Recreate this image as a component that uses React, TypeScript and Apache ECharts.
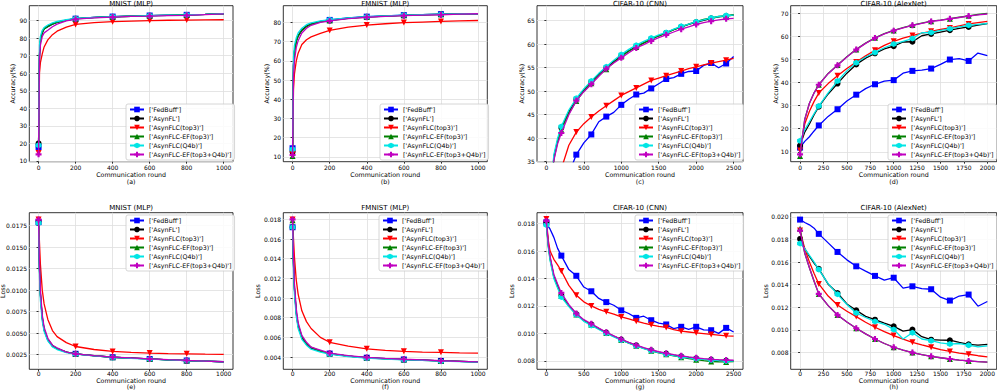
import React, { useEffect, useRef } from "react";
import * as echarts from "echarts";

const FONT = "DejaVu Sans";

const SERIES_NAMES = [
  "['FedBuff']",
  "['AsynFL']",
  "['AsynFLC(top3)']",
  "['AsynFLC-EF(top3)']",
  "['AsynFLC(Q4b)']",
  "['AsynFLC-EF(top3+Q4b)']",
];
const PANEL_TITLES = ["MNIST (MLP)", "FMNIST (MLP)", "CIFAR-10 (CNN)", "CIFAR-10 (AlexNet)"];
const PANEL_TAGS = ["(a)", "(b)", "(c)", "(d)", "(e)", "(f)", "(g)", "(h)"];
const X_NAME = "Communication round";
const Y_NAME_ACC = "Accuracy(%)";
const Y_NAME_LOSS = "Loss";

// tick labels
const X_TICKS_1000 = [0, 200, 400, 600, 800, 1000];
const X_TICKS_2500 = [0, 500, 1000, 1500, 2000, 2500];
const X_TICKS_2000 = [0, 250, 500, 750, 1000, 1250, 1500, 1750, 2000];
const Y_TICKS_A = [10, 20, 30, 40, 50, 60, 70, 80, 90];
const Y_TICKS_B = [10, 20, 30, 40, 50, 60, 70, 80];
const Y_TICKS_C = [35, 40, 45, 50, 55, 60, 65];
const Y_TICKS_D = [10, 20, 30, 40, 50, 60, 70];
const Y_TICKS_E = [0.0025, 0.005, 0.0075, 0.01, 0.0125, 0.015, 0.0175];
const Y_TICKS_F = [0.004, 0.006, 0.008, 0.01, 0.012, 0.014, 0.016, 0.018];
const Y_TICKS_G = [0.008, 0.01, 0.012, 0.014, 0.016, 0.018];
const Y_TICKS_H = [0.008, 0.01, 0.012, 0.014, 0.016, 0.018, 0.02];

// communication rounds
const X_MNIST = [0, 5, 10, 20, 30, 50, 75, 100, 150, 200, 300, 400, 500, 600, 700, 800, 900, 1000];
const X_CNN = [0, 25, 50, 100, 150, 200, 300, 400, 500, 600, 700, 800, 900, 1000, 1100, 1200, 1300, 1400, 1500, 1600, 1700, 1800, 1900, 2000, 2100, 2200, 2300, 2400, 2500];
const X_ALEX = [0, 50, 100, 150, 200, 300, 400, 500, 600, 700, 800, 900, 1000, 1100, 1200, 1300, 1400, 1500, 1600, 1700, 1800, 1900, 2000];

// (a) MNIST accuracy: FedBuff, AsynFL, top3, EF(top3), Q4b, EF(top3+Q4b)
const mnistAccFedBuff = [18, 70, 78, 83, 85.3, 86.5, 88, 89, 90.2, 91.1, 91.8, 92.3, 92.6, 92.9, 93.1, 93.3, 93.6, 94];
const mnistAccAsynFL = [20, 71, 79, 83.5, 85.6, 86.8, 88.2, 89.2, 90.3, 91.1, 91.8, 92.2, 92.5, 92.8, 93.0, 93.2, 93.5, 93.9];
const mnistAccTop3 = [14.5, 60, 66, 71, 75, 79, 82, 84, 86.3, 87.8, 88.8, 89.4, 89.7, 90, 90.2, 90.3, 90.4, 90.5];
const mnistAccEfTop3 = [19.5, 70, 78, 83, 85.3, 86.5, 88, 89, 90.2, 91, 91.7, 92.1, 92.5, 92.8, 93, 93.2, 93.5, 93.9];
const mnistAccQ4b = [19, 76, 81, 84.5, 86, 87.5, 88.7, 89.5, 90.5, 91.2, 91.9, 92.3, 92.6, 92.9, 93.1, 93.3, 93.6, 94];
const mnistAccEfBoth = [13.8, 68, 76, 81, 83, 84.5, 86.5, 88, 89.8, 90.8, 91.6, 92, 92.4, 92.6, 92.9, 93, 93.4, 93.8];

// (b) FMNIST accuracy
const fmnistAccFedBuff = [14.5, 58, 65, 70.5, 73, 76, 78, 79.2, 80.5, 81.3, 82.3, 83, 83.4, 83.8, 84.1, 84.3, 84.4, 84.5];
const fmnistAccAsynFL = [12.5, 58, 65, 70.5, 73, 76, 78, 79.2, 80.4, 81.1, 82.2, 82.9, 83.3, 83.7, 84, 84.2, 84.4, 84.5];
const fmnistAccTop3 = [11.5, 45, 53, 60, 64, 68.5, 71, 72.5, 74.3, 75.8, 77.5, 78.6, 79.3, 79.9, 80.2, 80.5, 80.8, 81];
const fmnistAccEfTop3 = [10.5, 57, 64.5, 70, 72.8, 75.8, 77.8, 79, 80.3, 81, 82.1, 82.8, 83.3, 83.7, 84, 84.2, 84.4, 84.5];
const fmnistAccQ4b = [14, 62, 68, 72, 74.5, 77, 78.8, 79.8, 80.8, 81.4, 82.3, 83, 83.4, 83.8, 84.1, 84.3, 84.4, 84.5];
const fmnistAccEfBoth = [11, 52, 60, 67, 70.5, 74.5, 77, 78.5, 80, 80.8, 82, 82.7, 83.1, 83.5, 83.8, 84, 84.3, 84.5];

// (c) CIFAR-10 CNN accuracy
const cnnAccFedBuff = [10, 12, 14, 19, 23, 27, 32.5, 36.5, 39, 40.8, 43.5, 44.6, 45.5, 47.1, 48.3, 49.3, 49.6, 50.6, 51.6, 52.6, 52.9, 53.7, 54.2, 54.3, 55.5, 56.0, 55.0, 55.9, 57.4];
const cnnAccAsynFL = [10, 18, 26, 36, 39.5, 42.2, 45.6, 48.3, 50.3, 52, 53.6, 55, 56.3, 57.5, 58.6, 59.5, 60.3, 61.1, 61.8, 62.4, 63.1, 63.7, 64.2, 64.7, 65.1, 65.5, 65.8, 66.0, 66.2];
const cnnAccTop3 = [10, 14, 18, 25, 30, 33.5, 38.5, 41.3, 43.1, 44.5, 45.8, 46.9, 48, 49.1, 49.9, 50.7, 51.5, 52.3, 52.8, 53.3, 53.8, 54.3, 54.8, 55.2, 55.6, 56.0, 56.3, 56.6, 57.0];
const cnnAccEfTop3 = [10, 17.5, 25.5, 35.5, 39.2, 41.8, 45.3, 47.9, 50.0, 51.7, 53.3, 54.7, 56.1, 57.4, 58.5, 59.4, 60.3, 61.1, 61.8, 62.4, 63.1, 63.7, 64.3, 64.8, 65.3, 65.6, 65.9, 66.1, 66.3];
const cnnAccQ4b = [10, 18.5, 27, 36.5, 40, 42.5, 46, 48.5, 50.5, 52.2, 53.8, 55.2, 56.6, 57.8, 58.9, 59.8, 60.6, 61.3, 62, 62.5, 63.2, 63.8, 64.3, 64.8, 65.2, 65.6, 65.9, 66.1, 66.2];
const cnnAccEfBoth = [10, 17.5, 25, 35.3, 38.8, 41.1, 45, 48, 49.9, 51.5, 53.2, 54.8, 56, 57.1, 58.2, 59.2, 59.9, 60.7, 61.4, 62, 62.6, 63.2, 63.7, 64.2, 64.6, 64.9, 65.2, 65.4, 65.5];

// (d) CIFAR-10 AlexNet accuracy
const alexAccFedBuff = [11.8, 14.5, 16.5, 19, 21.4, 25.3, 28.4, 32, 34.7, 37.3, 39.2, 40.6, 41, 44, 45, 45.3, 46, 47.8, 49.9, 50.3, 49.3, 52.7, 51.6];
const alexAccAsynFL = [12.7, 18.5, 22, 26, 29.5, 35, 39.5, 44, 47.8, 50.5, 52.6, 54.5, 55.7, 57.5, 57.6, 60.2, 61, 61.8, 62.6, 63.4, 64, 64.8, 65.5];
const alexAccTop3 = [10.5, 22, 27.5, 31.8, 35.4, 39.5, 42.9, 46, 48.8, 51.5, 53.9, 56, 57.8, 59.2, 60.3, 61.3, 62.1, 62.9, 63.6, 64.5, 65.3, 65.9, 66.4];
const alexAccEfTop3 = [8.2, 24, 31, 35.5, 39, 43.9, 47.5, 51.1, 54.3, 57, 59.3, 61.1, 62.5, 63.7, 64.8, 65.7, 66.5, 67, 67.6, 68.2, 68.8, 69.4, 69.9];
const alexAccQ4b = [14.8, 19.5, 23, 26.5, 29.8, 35.5, 40.6, 45, 48.5, 51, 53, 55, 56.6, 57.8, 59, 61.5, 61.6, 62.5, 63.2, 64, 64.7, 65.1, 65.5];
const alexAccEfBoth = [8.9, 24, 31, 35.5, 39, 43.8, 47.4, 51, 54.2, 56.9, 59.2, 61, 62.4, 63.6, 64.7, 65.6, 66.4, 66.9, 67.5, 68.1, 68.7, 69.2, 69.6];

// (e) MNIST loss
const mnistLossFedBuff = [0.0179, 0.0125, 0.0095, 0.0068, 0.0054, 0.0042, 0.0035, 0.0032, 0.0028, 0.0026, 0.00238, 0.0022, 0.0021, 0.002, 0.0019, 0.00182, 0.00175, 0.00168];
const mnistLossAsynFL = [0.018, 0.0124, 0.0094, 0.0067, 0.0054, 0.0042, 0.0035, 0.0032, 0.0028, 0.0026, 0.00237, 0.0022, 0.0021, 0.002, 0.0019, 0.00181, 0.00174, 0.00167];
const mnistLossTop3 = [0.0182, 0.0155, 0.013, 0.01, 0.0084, 0.0066, 0.0053, 0.0046, 0.0039, 0.00345, 0.0031, 0.00288, 0.00276, 0.00268, 0.00263, 0.0026, 0.00256, 0.00253];
const mnistLossEfTop3 = [0.018, 0.0126, 0.0096, 0.0069, 0.0055, 0.0043, 0.0036, 0.0032, 0.0028, 0.0026, 0.00238, 0.0022, 0.0021, 0.002, 0.0019, 0.00182, 0.00175, 0.00168];
const mnistLossQ4b = [0.0178, 0.0115, 0.0088, 0.0064, 0.0052, 0.0041, 0.0034, 0.0031, 0.00275, 0.00257, 0.00235, 0.00218, 0.00208, 0.00199, 0.0019, 0.00181, 0.00174, 0.00167];
const mnistLossEfBoth = [0.0182, 0.013, 0.01, 0.0071, 0.0057, 0.0044, 0.0036, 0.0033, 0.0028, 0.0026, 0.0024, 0.00222, 0.00212, 0.00202, 0.00192, 0.00183, 0.00176, 0.00168];

// (f) FMNIST loss
const fmnistLossFedBuff = [0.0172, 0.0135, 0.011, 0.0085, 0.0072, 0.006, 0.0053, 0.0049, 0.0046, 0.00435, 0.0041, 0.00393, 0.00383, 0.00375, 0.00368, 0.0036, 0.00355, 0.0035];
const fmnistLossAsynFL = [0.0172, 0.0134, 0.0109, 0.0084, 0.0071, 0.006, 0.0053, 0.0049, 0.0046, 0.00433, 0.0041, 0.00392, 0.00382, 0.00374, 0.00367, 0.0036, 0.00355, 0.0035];
const fmnistLossTop3 = [0.018, 0.016, 0.0142, 0.0118, 0.0104, 0.0087, 0.0076, 0.0069, 0.006, 0.0055, 0.0051, 0.00483, 0.00468, 0.00458, 0.0045, 0.00448, 0.00443, 0.0044];
const fmnistLossEfTop3 = [0.0179, 0.0137, 0.0111, 0.0086, 0.0073, 0.0061, 0.0054, 0.005, 0.0046, 0.00435, 0.0041, 0.00393, 0.00383, 0.00375, 0.00368, 0.0036, 0.00355, 0.0035];
const fmnistLossQ4b = [0.0172, 0.0128, 0.0104, 0.0081, 0.0069, 0.0058, 0.0052, 0.0048, 0.0045, 0.0043, 0.00405, 0.00388, 0.0038, 0.00372, 0.00365, 0.00358, 0.00353, 0.00349];
const fmnistLossEfBoth = [0.018, 0.0142, 0.0115, 0.0089, 0.0075, 0.0062, 0.0055, 0.005, 0.0047, 0.0044, 0.00415, 0.00396, 0.00386, 0.00377, 0.0037, 0.00362, 0.00356, 0.0035];

// (g) CIFAR-10 CNN loss
const cnnLossFedBuff = [0.0181, 0.0178, 0.0176, 0.017, 0.0162, 0.01567, 0.01465, 0.0142, 0.01338, 0.01307, 0.01255, 0.01228, 0.01205, 0.01168, 0.01145, 0.01113, 0.01125, 0.01096, 0.01075, 0.01065, 0.01035, 0.01048, 0.0103, 0.01048, 0.01025, 0.01023, 0.01, 0.0104, 0.0101];
const cnnLossAsynFL = [0.0181, 0.0165, 0.0155, 0.0142, 0.0135, 0.01278, 0.01205, 0.0114, 0.01095, 0.01065, 0.01035, 0.01006, 0.0098, 0.00955, 0.00932, 0.00912, 0.00893, 0.00877, 0.00863, 0.00852, 0.00842, 0.00833, 0.00825, 0.00818, 0.00812, 0.00808, 0.00804, 0.00801, 0.008];
const cnnLossTop3 = [0.01834, 0.0168, 0.016, 0.0154, 0.015, 0.01455, 0.0135, 0.01278, 0.0123, 0.012, 0.01175, 0.01157, 0.0114, 0.0112, 0.01105, 0.01089, 0.01075, 0.01062, 0.01051, 0.01043, 0.01028, 0.01016, 0.0101, 0.01004, 0.00998, 0.00992, 0.00987, 0.00982, 0.0098];
const cnnLossEfTop3 = [0.0181, 0.0164, 0.0154, 0.0141, 0.0134, 0.01272, 0.012, 0.01138, 0.01092, 0.01062, 0.01032, 0.01003, 0.00977, 0.00952, 0.00929, 0.00909, 0.0089, 0.00873, 0.00858, 0.00847, 0.00836, 0.00826, 0.00816, 0.00808, 0.00801, 0.00795, 0.00793, 0.00792, 0.00795];
const cnnLossQ4b = [0.0179, 0.0163, 0.0153, 0.014, 0.0133, 0.01265, 0.01195, 0.01135, 0.01088, 0.01058, 0.01028, 0.01, 0.00975, 0.0095, 0.00928, 0.00908, 0.00889, 0.00873, 0.00859, 0.00848, 0.00838, 0.00829, 0.00821, 0.00815, 0.0081, 0.00805, 0.00801, 0.00798, 0.00797];
const cnnLossEfBoth = [0.0182, 0.0166, 0.0156, 0.0143, 0.0136, 0.01295, 0.0121, 0.01145, 0.011, 0.0107, 0.01038, 0.01008, 0.00982, 0.00957, 0.00935, 0.00914, 0.00896, 0.0088, 0.00866, 0.00855, 0.00845, 0.00836, 0.00828, 0.00822, 0.00816, 0.00811, 0.00808, 0.00806, 0.00804];

// (h) CIFAR-10 AlexNet loss
const alexLossFedBuff = [0.01976, 0.0195, 0.0193, 0.019, 0.0185, 0.0177, 0.0169, 0.0162, 0.01563, 0.0152, 0.01478, 0.0144, 0.01462, 0.0137, 0.01386, 0.01365, 0.0136, 0.0129, 0.0126, 0.013, 0.01313, 0.0121, 0.01252];
const alexLossAsynFL = [0.01805, 0.0172, 0.0165, 0.0159, 0.0154, 0.01405, 0.01327, 0.0123, 0.01174, 0.0112, 0.01091, 0.0106, 0.01032, 0.0099, 0.01003, 0.0094, 0.00914, 0.0091, 0.00909, 0.0089, 0.00873, 0.00865, 0.00873];
const alexLossTop3 = [0.01879, 0.0172, 0.016, 0.015, 0.01407, 0.013, 0.01221, 0.01165, 0.01118, 0.01068, 0.01024, 0.00985, 0.0095, 0.00918, 0.00891, 0.00868, 0.00847, 0.00827, 0.0081, 0.00795, 0.00785, 0.00772, 0.00762];
const alexLossEfTop3 = [0.01894, 0.0168, 0.0155, 0.0143, 0.01319, 0.01215, 0.01133, 0.0107, 0.01015, 0.00965, 0.0092, 0.0088, 0.00847, 0.00822, 0.008, 0.00782, 0.00767, 0.00754, 0.00743, 0.00734, 0.00726, 0.0072, 0.00716];
const alexLossQ4b = [0.01764, 0.0172, 0.0166, 0.016, 0.01534, 0.0141, 0.01315, 0.01225, 0.0115, 0.0111, 0.01075, 0.0105, 0.01005, 0.0092, 0.00975, 0.0092, 0.00905, 0.00885, 0.00875, 0.0088, 0.00865, 0.0085, 0.0086];
const alexLossEfBoth = [0.01879, 0.0168, 0.0155, 0.0143, 0.01319, 0.01215, 0.01133, 0.0107, 0.01015, 0.00965, 0.0092, 0.0088, 0.00847, 0.00822, 0.008, 0.00782, 0.00767, 0.00754, 0.00743, 0.00734, 0.00726, 0.0072, 0.00716];

// styling
const COLORS = ["#0000ff", "#000000", "#ff0000", "#008000", "#00e5e5", "#c000c0"];
const SYMBOLS = [
  "rect",
  "circle",
  "path://M0,0L10,0L5,9Z",
  "path://M5,0L10,9L0,9Z",
  "path://M5,0L9.33,2.5L9.33,7.5L5,10L0.67,7.5L0.67,2.5Z",
  "path://M3.2,0L6.8,0L6.8,3.2L10,3.2L10,6.8L6.8,6.8L6.8,10L3.2,10L3.2,6.8L0,6.8L0,3.2L3.2,3.2Z",
];

const GRID_LEFT = [29.3, 283.3, 537, 790.7];
const GRID_WIDTH = [203.7, 204, 206, 206];
const GRID_TOP = [5.7, 212.7];
const GRID_HEIGHT = [156, 156.6];

type Panel = {
  xs: number[];
  ys: number[][];
  xRange: [number, number];
  yRange: [number, number];
  xTicks: number[];
  yTicks: number[];
  yDec: number;
  yName: string;
  yGap: number;
  legendTop: number;
  legendLeft: number;
};

const panels: Panel[] = [
  { xs: X_MNIST, ys: [mnistAccFedBuff, mnistAccAsynFL, mnistAccTop3, mnistAccEfTop3, mnistAccQ4b, mnistAccEfBoth], xRange: [-50, 1050], yRange: [9.6, 98.5], xTicks: X_TICKS_1000, yTicks: Y_TICKS_A, yDec: 0, yName: Y_NAME_ACC, yGap: 13.8, legendTop: 104, legendLeft: 126 },
  { xs: X_MNIST, ys: [fmnistAccFedBuff, fmnistAccAsynFL, fmnistAccTop3, fmnistAccEfTop3, fmnistAccQ4b, fmnistAccEfBoth], xRange: [-50, 1050], yRange: [7.5, 88.7], xTicks: X_TICKS_1000, yTicks: Y_TICKS_B, yDec: 0, yName: Y_NAME_ACC, yGap: 13.6, legendTop: 104, legendLeft: 380 },
  { xs: X_CNN, ys: [cnnAccFedBuff, cnnAccAsynFL, cnnAccTop3, cnnAccEfTop3, cnnAccQ4b, cnnAccEfBoth], xRange: [-125, 2625], yRange: [35, 68.2], xTicks: X_TICKS_2500, yTicks: Y_TICKS_C, yDec: 0, yName: Y_NAME_ACC, yGap: 12.5, legendTop: 104, legendLeft: 635 },
  { xs: X_ALEX, ys: [alexAccFedBuff, alexAccAsynFL, alexAccTop3, alexAccEfTop3, alexAccQ4b, alexAccEfBoth], xRange: [-100, 2100], yRange: [5.7, 73.2], xTicks: X_TICKS_2000, yTicks: Y_TICKS_D, yDec: 0, yName: Y_NAME_ACC, yGap: 12.2, legendTop: 104, legendLeft: 888 },
  { xs: X_MNIST, ys: [mnistLossFedBuff, mnistLossAsynFL, mnistLossTop3, mnistLossEfTop3, mnistLossQ4b, mnistLossEfBoth], xRange: [-50, 1050], yRange: [0.0008, 0.019], xTicks: X_TICKS_1000, yTicks: Y_TICKS_E, yDec: 4, yName: Y_NAME_LOSS, yGap: 24.2, legendTop: 215, legendLeft: 126 },
  { xs: X_MNIST, ys: [fmnistLossFedBuff, fmnistLossAsynFL, fmnistLossTop3, fmnistLossEfTop3, fmnistLossQ4b, fmnistLossEfBoth], xRange: [-50, 1050], yRange: [0.00275, 0.01868], xTicks: X_TICKS_1000, yTicks: Y_TICKS_F, yDec: 3, yName: Y_NAME_LOSS, yGap: 23.1, legendTop: 215, legendLeft: 379 },
  { xs: X_CNN, ys: [cnnLossFedBuff, cnnLossAsynFL, cnnLossTop3, cnnLossEfTop3, cnnLossQ4b, cnnLossEfBoth], xRange: [-125, 2625], yRange: [0.00738, 0.0188], xTicks: X_TICKS_2500, yTicks: Y_TICKS_G, yDec: 3, yName: Y_NAME_LOSS, yGap: 22.7, legendTop: 215, legendLeft: 635 },
  { xs: X_ALEX, ys: [alexLossFedBuff, alexLossAsynFL, alexLossTop3, alexLossEfTop3, alexLossQ4b, alexLossEfBoth], xRange: [-100, 2100], yRange: [0.00652, 0.02037], xTicks: X_TICKS_2000, yTicks: Y_TICKS_H, yDec: 3, yName: Y_NAME_LOSS, yGap: 22.3, legendTop: 215, legendLeft: 888 },
];

function buildOption() {
  const grid: any[] = [];
  const xAxis: any[] = [];
  const yAxis: any[] = [];
  const series: any[] = [];
  const legend: any[] = [];
  const graphic: any[] = [];

  panels.forEach((p, i) => {
    const row = i < 4 ? 0 : 1;
    const col = i % 4;
    const left = GRID_LEFT[col];
    const width = GRID_WIDTH[col];
    const top = GRID_TOP[row];
    const height = GRID_HEIGHT[row];
    grid.push({
      left, top, width, height,
      show: true, borderColor: "#000", borderWidth: 0.8, backgroundColor: "transparent",
      containLabel: false, outerBoundsMode: "none",
    });
    xAxis.push({
      type: "value", gridIndex: i, min: p.xRange[0], max: p.xRange[1],
      axisLine: { show: false },
      axisTick: { show: true, length: 2, customValues: p.xTicks, lineStyle: { color: "#000", width: 0.8 } },
      axisLabel: { customValues: p.xTicks, fontSize: 6, fontFamily: FONT, color: "#000", margin: row === 0 ? 2.5 : 1.5, formatter: (v: number) => String(v) },
      splitLine: { show: true, lineStyle: { color: "#dedede", width: 0.8 } },
      name: X_NAME + "\n" + PANEL_TAGS[i],
      nameLocation: "middle",
      nameMoveOverlap: false,
      nameGap: row === 0 ? 9 : 7.5,
      nameTextStyle: { fontSize: 6.3, fontFamily: FONT, color: "#000", lineHeight: row === 0 ? 7.2 : 6.5 },
    });
    yAxis.push({
      type: "value", gridIndex: i, min: p.yRange[0], max: p.yRange[1],
      axisLine: { show: false },
      axisTick: { show: true, length: 2, customValues: p.yTicks, lineStyle: { color: "#000", width: 0.8 } },
      axisLabel: { customValues: p.yTicks, fontSize: 6, fontFamily: FONT, color: "#000", margin: 2.2, formatter: (v: number) => v.toFixed(p.yDec) },
      splitLine: { show: true, lineStyle: { color: "#dedede", width: 0.8 } },
      name: p.yName,
      nameLocation: "middle",
      nameMoveOverlap: false,
      nameGap: p.yGap,
      nameTextStyle: { fontSize: 6.3, fontFamily: FONT, color: "#000" },
    });
    const lastX = p.xs[p.xs.length - 1];
    p.ys.forEach((vals, s) => {
      const data = p.xs.map((x, k) => {
        const y = vals[k];
        const marked = x % 200 === 0 && x !== lastX && y >= p.yRange[0] && y <= p.yRange[1];
        return marked ? { value: [x, y] } : { value: [x, y], symbol: "none" };
      });
      series.push({
        type: "line",
        name: SERIES_NAMES[s],
        xAxisIndex: i,
        yAxisIndex: i,
        data,
        symbol: SYMBOLS[s],
        symbolSize: 6,
        showSymbol: true,
        clip: true,
        silent: true,
        z: 2 + s,
        lineStyle: { color: COLORS[s], width: 1.3 },
        itemStyle: { color: COLORS[s], borderWidth: 0 },
        emphasis: { disabled: true },
      });
    });
    legend.push({
      orient: "vertical",
      left: p.legendLeft,
      top: p.legendTop,
      itemWidth: 14,
      itemHeight: 7,
      itemGap: 2,
      selectedMode: false,
      data: SERIES_NAMES,
      textStyle: { fontSize: 6.3, fontFamily: FONT, color: "#000", lineHeight: 7 },
      backgroundColor: "rgba(255,255,255,0.85)",
      borderColor: "#cccccc",
      borderWidth: 0.8,
      borderRadius: 2,
      padding: [2, 3, 2, 3],
    });
    graphic.push({
      type: "text",
      x: left + width / 2,
      y: row === 0 ? 0 : 204,
      silent: true,
      style: {
        text: PANEL_TITLES[col],
        fontSize: 7,
        fontFamily: FONT,
        fill: "#000",
        align: "center",
        verticalAlign: "top",
      },
    });
  });

  return {
    animation: false,
    backgroundColor: "#ffffff",
    textStyle: { fontFamily: FONT },
    grid,
    xAxis,
    yAxis,
    series,
    legend,
    graphic,
  };
}

export default function App() {
  const ref = useRef<HTMLDivElement>(null);
  useEffect(() => {
    if (!ref.current) return;
    const chart = echarts.init(ref.current, null, { renderer: "svg" });
    chart.setOption(buildOption() as any);
    return () => {
      chart.dispose();
    };
  }, []);
  return (
    <div
      ref={ref}
      style={{ position: "absolute", left: 0, top: 0, width: 997, height: 391, background: "#fff" }}
    />
  );
}
